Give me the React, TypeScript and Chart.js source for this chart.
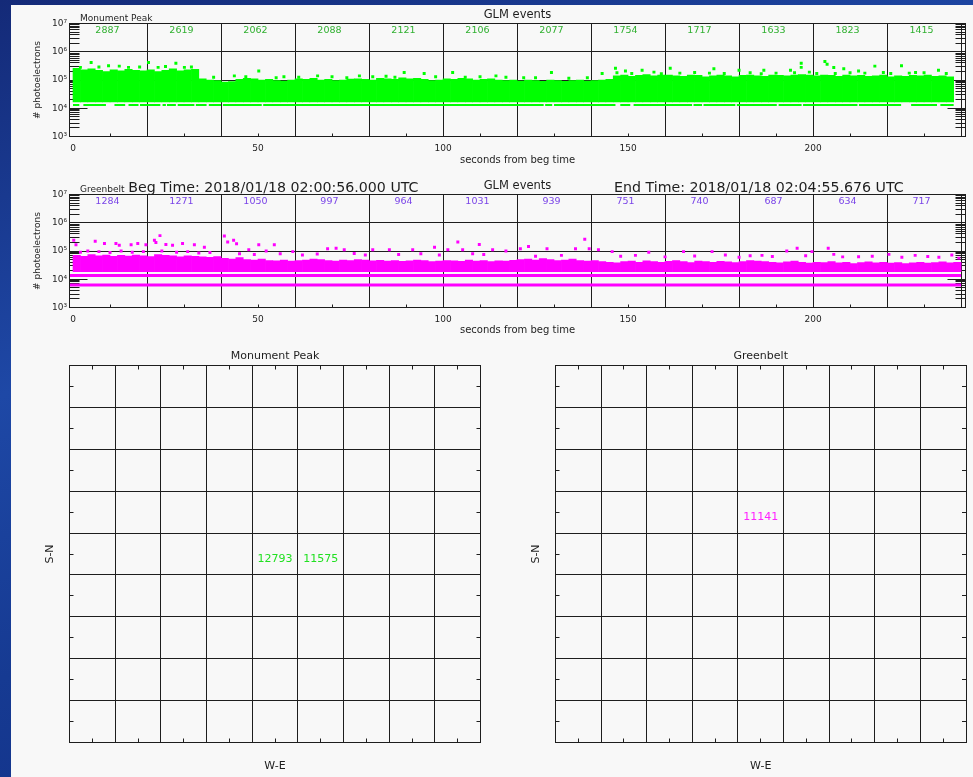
import React, { useEffect, useRef } from "react";
import { Chart, registerables } from "chart.js";
Chart.register(...registerables);

const FONT = "'DejaVu Sans', 'Liberation Sans', sans-serif";
const INK = "#1e1e1e";
const GREEN = "#00ff00";
const MAGENTA = "#ff00ff";

// ---------------- time-series data ----------------
const BIN = 2; // seconds per envelope bin
const xTickValues = [0, 50, 100, 150, 200];
const xGridValues = [20, 40, 60, 80, 100, 120, 140, 160, 180, 200, 220, 240];
const xMinorTicks = [10, 30, 50, 70, 90, 110, 130, 150, 170, 190, 210, 230];
const yTickValues = [1e3, 1e4, 1e5, 1e6, 1e7];
const yGridValues = [1e5, 1e6];
const LOG_MINOR = [2, 3, 4, 5, 6, 7, 8, 9];

const countBinStarts = [0, 20, 40, 60, 80, 100, 120, 140, 160, 180, 200, 220];
const monumentCounts = [2887, 2619, 2062, 2088, 2121, 2106, 2077, 1754, 1717, 1633, 1823, 1415];
const greenbeltCounts = [1284, 1271, 1050, 997, 964, 1031, 939, 751, 740, 687, 634, 717];

// Monument Peak (green) dense band: low edge and top edge per 2-s bin
const greenCoreLow = 1.69e4;
const greenCoreTop = [
  2.6e5, 2.3e5, 2.5e5, 2.2e5, 2.0e5, 2.3e5, 2.1e5, 2.4e5, 2.2e5, 2.1e5,
  2.3e5, 2.0e5, 2.2e5, 2.5e5, 2.1e5, 2.3e5, 2.4e5,
  1.1e5, 1.0e5, 0.95e5, 0.85e5, 0.88e5, 1.05e5, 1.15e5, 1.1e5, 1.0e5, 1.05e5,
  0.95e5, 0.92e5, 1.0e5, 1.1e5, 1.05e5, 1.15e5, 1.0e5, 1.05e5, 0.95e5, 1.0e5,
  1.08e5, 1.1e5, 1.05e5, 1.0e5, 1.15e5, 1.1e5, 1.05e5, 1.2e5, 1.1e5, 1.15e5,
  1.05e5, 0.95e5, 1.0e5, 1.1e5, 1.05e5, 1.15e5, 1.1e5, 1.0e5, 1.05e5, 1.1e5,
  1.0e5, 0.95e5, 1.0e5, 0.92e5, 1.0e5, 0.95e5, 0.9e5, 1.0e5, 0.95e5, 0.9e5,
  0.95e5, 1.0e5, 0.92e5, 0.95e5, 1.0e5, 1.05e5,
  1.4e5, 1.5e5, 1.35e5, 1.45e5, 1.55e5, 1.4e5, 1.5e5, 1.5e5, 1.4e5, 1.35e5,
  1.5e5, 1.45e5, 1.3e5, 1.4e5, 1.5e5, 1.4e5, 1.3e5, 1.45e5, 1.5e5, 1.4e5,
  1.35e5, 1.5e5, 1.45e5, 1.4e5, 1.5e5, 1.55e5, 1.5e5, 1.4e5, 1.5e5, 1.45e5,
  1.35e5, 1.5e5, 1.4e5, 1.45e5, 1.35e5, 1.4e5, 1.5e5, 1.3e5, 1.4e5, 1.35e5,
  1.45e5, 1.4e5, 1.5e5, 1.35e5, 1.4e5, 1.3e5,
];
// isolated green events above the band [seconds, photoelectrons]
const greenSpeckles: [number, number][] = [
  [4.9, 4.2e5], [9.6, 3.2e5], [12.5, 3.1e5], [20.4, 4.2e5], [27.8, 3.9e5], [30.1, 2.8e5],
  [2, 2.8e5], [7, 2.9e5], [15, 2.8e5], [18, 2.9e5], [23, 2.8e5], [25, 3.0e5], [32, 2.9e5],
  [43.6, 1.4e5], [50.2, 2.1e5], [46.7, 1.3e5], [54.9, 1.2e5], [66.1, 1.4e5], [77.4, 1.4e5],
  [89.5, 1.85e5], [94.9, 1.7e5], [102.6, 1.85e5], [84.6, 1.35e5], [114.3, 1.4e5],
  [38, 1.25e5], [57, 1.3e5], [61, 1.25e5], [70, 1.3e5], [74, 1.2e5], [81, 1.3e5], [87, 1.25e5],
  [98, 1.3e5], [106, 1.25e5], [110, 1.3e5], [117, 1.25e5], [125, 1.2e5], [134, 1.15e5], [139, 1.2e5],
  [129.3, 1.85e5], [121.8, 1.2e5], [143, 1.7e5], [146.6, 2.6e5], [149.3, 2.1e5], [153.8, 2.2e5],
  [161.4, 2.6e5], [173.2, 2.5e5], [180, 2.2e5], [186.7, 2.2e5], [196.8, 3.9e5], [196.8, 2.8e5],
  [203.2, 4.5e5], [203.8, 3.6e5], [205.6, 2.75e5], [208.3, 2.5e5], [216.7, 3.1e5], [223.9, 3.2e5],
  [233.9, 2.2e5], [212.3, 2.1e5], [193.9, 2.2e5], [227.7, 1.85e5],
  [147, 1.8e5], [151, 1.7e5], [157, 1.9e5], [164, 1.75e5], [168, 1.85e5], [176, 1.7e5],
  [183, 1.8e5], [190, 1.75e5], [199, 1.9e5], [201, 1.7e5], [210, 1.8e5], [214, 1.75e5],
  [219, 1.85e5], [221, 1.7e5], [230, 1.8e5], [236, 1.7e5], [226, 1.75e5], [159, 1.65e5],
  [172, 1.75e5], [186, 1.65e5], [195, 1.8e5], [206, 1.7e5],
];
// dashed green level and its drawn pieces [start s, end s]
const greenLineLevel = 1.3e4;
const greenLineSegments: [number, number][] = [
  [0, 1.7], [2.8, 8.9], [11.2, 14.1], [15, 17.7], [18.1, 23.6], [24.2, 25.1], [25.4, 27.8],
  [28.3, 32.8], [33.2, 36.1], [36.7, 40], [40.5, 51], [51.4, 127.2], [127.6, 129.5],
  [130, 146.6], [147.9, 150.6], [151.5, 167.3], [167.7, 170], [170.4, 179], [179.4, 190.2],
  [190.7, 196.9], [197.3, 212], [212.4, 223.8], [226.5, 233.5], [234.4, 238],
];

// Greenbelt (magenta)
const magentaCoreLow = 1.87e4;
const magentaCoreTop = [
  7.0e4, 6.5e4, 7.5e4, 6.8e4, 7.2e4, 6.5e4, 7.0e4, 6.6e4, 7.2e4, 6.8e4,
  6.4e4, 7.5e4, 7.0e4, 6.8e4, 6.2e4, 6.8e4, 6.5e4, 6.2e4, 6.0e4, 6.4e4,
  5.5e4, 5.2e4, 5.8e4, 5.0e4, 4.8e4, 5.2e4, 4.6e4, 4.5e4, 4.8e4, 4.4e4,
  4.6e4, 4.8e4, 5.2e4, 5.0e4, 4.6e4, 4.4e4, 4.8e4, 4.6e4, 5.0e4, 4.8e4,
  4.5e4, 4.7e4, 4.4e4, 4.6e4, 4.3e4, 4.5e4, 4.8e4, 4.6e4, 4.2e4, 4.4e4,
  4.6e4, 4.5e4, 4.3e4, 4.8e4, 4.4e4, 4.6e4, 4.2e4, 4.5e4, 4.4e4, 4.7e4,
  5.0e4, 5.2e4, 4.8e4, 5.4e4, 5.0e4, 4.6e4, 4.8e4, 5.2e4, 4.6e4, 4.4e4,
  4.6e4, 4.2e4, 4.0e4, 3.8e4, 4.2e4, 4.4e4, 4.0e4, 4.5e4, 4.2e4, 4.0e4,
  4.3e4, 4.6e4, 4.2e4, 3.9e4, 4.4e4, 4.2e4, 4.0e4, 4.3e4, 4.1e4, 3.9e4,
  4.2e4, 4.6e4, 4.4e4, 4.2e4, 4.0e4, 3.8e4, 4.1e4, 4.4e4, 4.0e4, 3.7e4,
  4.0e4, 3.9e4, 4.2e4, 3.8e4, 4.0e4, 3.6e4, 3.9e4, 4.1e4, 3.8e4, 4.0e4,
  3.7e4, 3.9e4, 3.6e4, 3.8e4, 4.0e4, 3.7e4, 3.9e4, 4.1e4, 3.8e4, 4.0e4,
];
const magentaSpeckles: [number, number][] = [
  [0.2, 2.4e5], [0.8, 1.66e5], [6.0, 2.2e5], [8.5, 1.85e5], [11.6, 1.85e5], [12.5, 1.6e5],
  [15.7, 1.66e5], [17.5, 1.85e5], [19.7, 1.66e5], [22.0, 2.4e5], [22.4, 2.0e5], [23.5, 3.5e5],
  [25.1, 1.7e5], [26.9, 1.6e5], [29.6, 1.85e5], [32.8, 1.66e5], [35.5, 1.35e5], [40.9, 3.4e5],
  [41.8, 2.1e5], [43.4, 2.4e5], [44.2, 1.8e5], [47.5, 1.1e5], [50.2, 1.66e5], [52.2, 1.0e5],
  [54.4, 1.66e5], [59.4, 9.5e4], [68.8, 1.2e5], [71.1, 1.26e5], [73.3, 1.1e5], [81, 1.1e5],
  [85.5, 1.1e5], [91.8, 1.1e5], [97.7, 1.35e5], [101.3, 1.1e5], [104, 2.1e5], [105.3, 1.1e5],
  [109.8, 1.7e5], [113.4, 1.1e5], [117, 1.0e5],
  [2, 9e4], [4, 1.0e5], [7, 9.5e4], [10, 8.8e4], [13, 1.0e5], [16, 9e4], [19, 9.5e4], [24, 1.0e5],
  [28, 9.0e4], [31, 9.5e4], [34, 8.5e4], [37, 8.8e4], [45, 8.0e4], [49, 7.5e4], [56, 8.0e4],
  [62, 7.2e4], [66, 7.8e4], [76, 8.2e4], [79, 7.2e4], [88, 7.5e4], [94, 8.0e4], [99, 7.2e4],
  [108, 8.0e4], [111, 7.5e4],
  [138.3, 2.6e5], [139.5, 1.2e5], [120.9, 1.2e5], [123.1, 1.45e5], [128.1, 1.2e5], [135.8, 1.2e5],
  [142, 1.1e5], [145.7, 9.5e4], [155.6, 9e4], [165, 9.5e4], [172.7, 9.5e4], [176.3, 7.2e4],
  [186.2, 7e4], [192.9, 1.0e5], [195.7, 1.26e5], [199.7, 9.5e4], [204.1, 1.26e5], [205.6, 7.6e4],
  [212.3, 6.3e4], [220.5, 7.6e4], [227.6, 7e4], [237.5, 7.2e4], [239.4, 5.6e4],
  [125, 6.5e4], [132, 7.0e4], [148, 6.5e4], [152, 7.0e4], [160, 6.2e4], [168, 6.6e4], [180, 6.0e4],
  [183, 6.8e4], [189, 6.4e4], [198, 6.8e4], [208, 6.2e4], [216, 6.5e4], [224, 6.0e4], [231, 6.4e4],
  [234, 6.0e4],
];
const magentaLineLevels = [1.35e4, 6.3e3];
const magentaLineSpan: [number, number] = [-1, 240];

// ---------------- map data ----------------
const mapGridValues = [1, 2, 3, 4, 5, 6, 7, 8];
const mapMinorTicks = [0.5, 1.5, 2.5, 3.5, 4.5, 5.5, 6.5, 7.5, 8.5];
const monumentMapCols = [4, 5];
const monumentMapRows = [4, 4];
const monumentMapCounts = [12793, 11575];
const greenbeltMapCols = [4];
const greenbeltMapRows = [5];
const greenbeltMapCounts = [11141];

const SUP: Record<string, string> = { "0": "⁰", "1": "¹", "2": "²", "3": "³", "4": "⁴", "5": "⁵", "6": "⁶", "7": "⁷", "8": "⁸", "9": "⁹" };
const fmtPow = (v: number) => "10" + String(Math.round(Math.log10(v))).split("").map((c) => SUP[c]).join("");
const crisp = (p: number) => Math.floor(p) + 0.5;

type Txt = { text: string; x: number; y: number; size: number; align: CanvasTextAlign };

function timeConfig(o: any) {
  const datasets: any[] = [
    {
      type: "bar",
      data: o.coreTop.map((t: number, i: number) => ({ x: i * BIN + BIN / 2, y: [o.coreLow, t] })),
      backgroundColor: o.color,
      borderWidth: 0,
      barPercentage: 1,
      categoryPercentage: 1,
    },
    {
      type: "scatter",
      data: o.speckles.map(([s, v]: [number, number]) => ({ x: s, y: v })),
      backgroundColor: o.color,
      pointStyle: "rect",
      pointRadius: 2.1,
      borderWidth: 0,
    },
    ...o.lines.map((l: any) => ({
      type: "line",
      data: l.data,
      borderColor: o.color,
      borderWidth: l.width,
      pointRadius: 0,
      spanGaps: false,
      fill: false,
    })),
  ];
  const decor = {
    id: "timeDecor",
    beforeDatasetsDraw(chart: any) {
      const { ctx, chartArea: a } = chart;
      const x = chart.scales.x, y = chart.scales.y;
      ctx.save();
      ctx.strokeStyle = INK;
      ctx.lineWidth = 1;
      ctx.beginPath();
      for (const v of xGridValues) {
        const p = crisp(x.getPixelForValue(v));
        ctx.moveTo(p, a.top); ctx.lineTo(p, a.bottom);
      }
      for (const v of yGridValues) {
        const p = crisp(y.getPixelForValue(v));
        ctx.moveTo(a.left, p); ctx.lineTo(a.right, p);
      }
      for (const d of yTickValues.slice(0, -1)) {
        for (const k of LOG_MINOR) {
          const p = crisp(y.getPixelForValue(k * d));
          ctx.moveTo(a.left, p); ctx.lineTo(a.left + 10, p);
          ctx.moveTo(a.right - 10, p); ctx.lineTo(a.right, p);
        }
      }
      for (const v of yTickValues) {
        const p = crisp(y.getPixelForValue(v));
        ctx.moveTo(a.left, p); ctx.lineTo(a.left + 18, p);
        ctx.moveTo(a.right - 18, p); ctx.lineTo(a.right, p);
      }
      for (const v of xMinorTicks) {
        const p = crisp(x.getPixelForValue(v));
        ctx.moveTo(p, a.bottom); ctx.lineTo(p, a.bottom - 3);
      }
      ctx.stroke();
      ctx.restore();
    },
    afterDatasetsDraw(chart: any) {
      const { ctx, chartArea: a } = chart;
      const x = chart.scales.x;
      ctx.save();
      ctx.strokeStyle = INK;
      ctx.lineWidth = 1;
      const l = crisp(a.left), t = crisp(a.top), r = crisp(a.right), b = crisp(a.bottom);
      ctx.strokeRect(l, t, r - l, b - t);
      ctx.font = `9.5px ${FONT}`;
      ctx.fillStyle = o.countColor;
      ctx.textAlign = "center";
      ctx.textBaseline = "alphabetic";
      o.counts.forEach((c: number, i: number) => {
        ctx.fillText(String(c), x.getPixelForValue(countBinStarts[i] + 9.3), a.top + o.countDy);
      });
      ctx.fillStyle = INK;
      for (const tx of o.texts as Txt[]) {
        ctx.font = `${tx.size}px ${FONT}`;
        ctx.textAlign = tx.align;
        ctx.fillText(tx.text, tx.x, tx.y);
      }
      ctx.restore();
    },
  };
  return {
    type: "bar",
    data: { datasets },
    options: {
      animation: false,
      responsive: false,
      events: [],
      layout: { padding: { left: 0, top: o.padTop, right: 7.5, bottom: 0 } },
      plugins: { legend: { display: false }, tooltip: { enabled: false }, title: { display: false } },
      scales: {
        x: {
          type: "linear",
          min: -0.95,
          max: 241.2,
          offset: false,
          grid: { display: false, drawTicks: false },
          border: { display: false },
          afterBuildTicks: (s: any) => { s.ticks = xTickValues.map((v) => ({ value: v })); },
          ticks: { font: { family: FONT, size: 9 }, color: INK, padding: 7, maxRotation: 0, autoSkip: false },
          title: { display: true, text: "seconds from beg time", font: { family: FONT, size: 10 }, color: INK, padding: { top: 0, bottom: o.xTitlePad } },
          afterFit: (s: any) => { s.height = o.xAxisH; },
        },
        y: {
          type: "logarithmic",
          min: 1e3,
          max: 1e7,
          grid: { display: false, drawTicks: false },
          border: { display: false },
          afterBuildTicks: (s: any) => { s.ticks = yTickValues.map((v) => ({ value: v, major: true })); },
          ticks: { callback: (v: any) => fmtPow(Number(v)), font: { family: FONT, size: 9 }, color: INK, padding: 2.5, autoSkip: false },
          title: { display: true, text: "# photoelectrons", font: { family: FONT, size: 9 }, color: INK, padding: { top: 21.6, bottom: 0 } },
          afterFit: (s: any) => { s.width = 58.5; },
        },
      },
    },
    plugins: [decor],
  };
}

function mapConfig(o: any) {
  const decor = {
    id: "mapDecor",
    afterDatasetsDraw(chart: any) {
      const { ctx, chartArea: a } = chart;
      const x = chart.scales.x, y = chart.scales.y;
      ctx.save();
      ctx.strokeStyle = INK;
      ctx.lineWidth = 1;
      ctx.beginPath();
      for (const v of mapGridValues) {
        const px = crisp(x.getPixelForValue(v));
        ctx.moveTo(px, a.top); ctx.lineTo(px, a.bottom);
        const py = crisp(y.getPixelForValue(v));
        ctx.moveTo(a.left, py); ctx.lineTo(a.right, py);
      }
      for (const v of mapMinorTicks) {
        const px = crisp(x.getPixelForValue(v));
        ctx.moveTo(px, a.top); ctx.lineTo(px, a.top + 4);
        ctx.moveTo(px, a.bottom); ctx.lineTo(px, a.bottom - 4);
        const py = crisp(y.getPixelForValue(v));
        ctx.moveTo(a.left, py); ctx.lineTo(a.left + 4, py);
        ctx.moveTo(a.right, py); ctx.lineTo(a.right - 4, py);
      }
      ctx.stroke();
      const l = crisp(a.left), t = crisp(a.top), r = crisp(a.right), b = crisp(a.bottom);
      ctx.strokeRect(l, t, r - l, b - t);
      ctx.font = `11px ${FONT}`;
      ctx.textAlign = "center";
      ctx.textBaseline = "middle";
      ctx.fillStyle = INK;
      ctx.fillText(o.title, (a.left + a.right) / 2, 15);
      ctx.fillStyle = o.color;
      const pts = chart.getDatasetMeta(0).data;
      o.counts.forEach((c: number, i: number) => {
        const p = pts[i];
        ctx.fillText(String(c), p.x, p.y);
      });
      ctx.restore();
    },
  };
  return {
    type: "scatter",
    data: {
      datasets: [{
        data: o.cols.map((c: number, i: number) => ({ x: c + 0.5, y: o.rows[i] + 0.38 })),
        pointRadius: 0,
        borderWidth: 0,
      }],
    },
    options: {
      animation: false,
      responsive: false,
      events: [],
      layout: { padding: { left: 0, top: 24.5, right: o.padRight, bottom: 0 } },
      plugins: { legend: { display: false }, tooltip: { enabled: false } },
      scales: {
        x: {
          type: "linear", min: 0, max: 9,
          grid: { display: false, drawTicks: false }, border: { display: false },
          ticks: { display: false },
          title: { display: true, text: "W-E", font: { family: FONT, size: 11 }, color: INK, padding: { top: 0, bottom: 4.4 } },
          afterFit: (s: any) => { s.height = 34.5; },
        },
        y: {
          type: "linear", min: 0, max: 9,
          grid: { display: false, drawTicks: false }, border: { display: false },
          ticks: { display: false },
          title: { display: true, text: "S-N", font: { family: FONT, size: 11 }, color: INK, padding: { top: o.yTitlePad, bottom: 0 } },
          afterFit: (s: any) => { s.width = o.yAxisW; },
        },
      },
    },
    plugins: [decor],
  };
}

export default function App() {
  const c1 = useRef<HTMLCanvasElement>(null);
  const c2 = useRef<HTMLCanvasElement>(null);
  const c3 = useRef<HTMLCanvasElement>(null);
  const c4 = useRef<HTMLCanvasElement>(null);

  useEffect(() => {
    const greenDash = greenLineSegments.flatMap(([s, e]) => [
      { x: s, y: greenLineLevel }, { x: e, y: greenLineLevel }, { x: e, y: null },
    ]);
    const charts = [
      new Chart(c1.current as HTMLCanvasElement, timeConfig({
        coreTop: greenCoreTop, coreLow: greenCoreLow, color: GREEN, speckles: greenSpeckles,
        lines: [{ data: greenDash, width: 2 }],
        counts: monumentCounts, countColor: "#30b030", countDy: 9.8,
        padTop: 18.5, xAxisH: 33.5, xTitlePad: 3.9,
        texts: [
          { text: "Monument Peak", x: 69, y: 15.7, size: 9, align: "left" },
          { text: "GLM events", x: 506.5, y: 13.3, size: 11.5, align: "center" },
        ],
      }) as any),
      new Chart(c2.current as HTMLCanvasElement, timeConfig({
        coreTop: magentaCoreTop, coreLow: magentaCoreLow, color: MAGENTA, speckles: magentaSpeckles,
        lines: magentaLineLevels.map((lv) => ({ data: magentaLineSpan.map((s) => ({ x: s, y: lv })), width: 3 })),
        counts: greenbeltCounts, countColor: "#7a44e8", countDy: 9.5,
        padTop: 24.5, xAxisH: 33.5, xTitlePad: 4.2,
        texts: [
          { text: "Greenbelt", x: 69, y: 21.7, size: 9, align: "left" },
          { text: "Beg Time: 2018/01/18 02:00:56.000 UTC", x: 117.3, y: 21.7, size: 14.2, align: "left" },
          { text: "GLM events", x: 506.5, y: 19.3, size: 11.5, align: "center" },
          { text: "End Time: 2018/01/18 02:04:55.676 UTC", x: 603, y: 21.7, size: 14.2, align: "left" },
        ],
      }) as any),
      new Chart(c3.current as HTMLCanvasElement, mapConfig({
        title: "Monument Peak", cols: monumentMapCols, rows: monumentMapRows, counts: monumentMapCounts,
        color: "#22e022", padRight: 27.5, yAxisW: 58.5, yTitlePad: 32.4,
      }) as any),
      new Chart(c4.current as HTMLCanvasElement, mapConfig({
        title: "Greenbelt", cols: greenbeltMapCols, rows: greenbeltMapRows, counts: greenbeltMapCounts,
        color: "#ff22ff", padRight: 7, yAxisW: 47.5, yTitlePad: 21.4,
      }) as any),
    ];
    return () => charts.forEach((c) => c.destroy());
  }, []);

  const abs = (l: number, t: number): React.CSSProperties => ({ position: "absolute", left: l, top: t });
  return (
    <div style={{ position: "absolute", left: 0, top: 0, width: 973, height: 777, overflow: "hidden",
      background: "linear-gradient(160deg, #142a78 0%, #1e48a6 35%, #163a92 60%, #0f2a80 100%)" }}>
      <div style={{ ...abs(11, 5), width: 962, height: 772, background: "#f8f8f8" }} />
      <canvas ref={c1} width={962} height={165} style={{ ...abs(11, 5), width: 962, height: 165 }} />
      <canvas ref={c2} width={962} height={171} style={{ ...abs(11, 170), width: 962, height: 171 }} />
      <canvas ref={c3} width={497} height={436} style={{ ...abs(11, 341), width: 497, height: 436 }} />
      <canvas ref={c4} width={465} height={436} style={{ ...abs(508, 341), width: 465, height: 436 }} />
    </div>
  );
}
